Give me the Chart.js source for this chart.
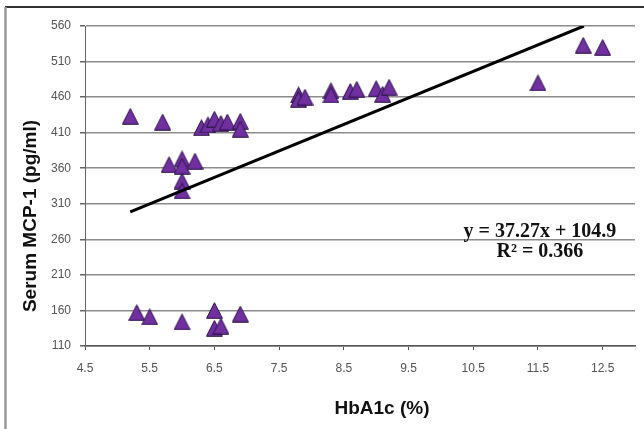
<!DOCTYPE html>
<html>
<head>
<meta charset="utf-8">
<style>
  html, body { margin: 0; padding: 0; background: #fff; }
  #wrap { width: 644px; height: 429px; }
</style>
<script src="https://cdn.jsdelivr.net/npm/chart.js@4"></script>
</head>
<body>
<div id="wrap"><canvas id="mcpChart"></canvas></div>
<script>
// values
const hba1c = [5.3, 5.5, 6.0, 6.5, 6.5, 6.6, 6.9,
  5.2, 5.7, 6.3, 6.4, 6.5, 6.6, 6.7, 6.9, 6.9,
  5.8, 6.0, 6.0, 6.2, 6.0, 6.0,
  7.8, 7.8, 7.9, 8.3, 8.3, 8.6, 8.7, 9.0, 9.1, 9.2,
  11.5, 12.2, 12.5];
const mcp1 = [157, 151, 144, 160, 135, 138, 155,
  433, 425, 417, 421, 429, 423, 425, 426, 415,
  365, 373, 363, 370, 342, 328,
  463, 457, 460, 469, 463, 468, 471, 472, 464, 474,
  480, 533, 530];

const xTicks = [4.5, 5.5, 6.5, 7.5, 8.5, 9.5, 10.5, 11.5, 12.5];
const yTicks = [110, 160, 210, 260, 310, 360, 410, 460, 510, 560];

// linear trendline shown on the chart
const slope = 37.27;
const intercept = 104.9;
const trendX = [5.2, 12.21];
const eqLines = ["y = 37.27x + 104.9", "R\u00B2 = 0.366"];

Chart.defaults.font.family = "'Liberation Sans', Arial, sans-serif";

// Excel-like triangle marker
const marker = document.createElement("canvas");
marker.width = 17;
marker.height = 17;
const mctx = marker.getContext("2d");
mctx.beginPath();
mctx.moveTo(8.5, 0.7);
mctx.lineTo(16.4, 16.3);
mctx.lineTo(0.6, 16.3);
mctx.closePath();
mctx.fillStyle = "#7030a0";
mctx.fill();
mctx.lineWidth = 1;
mctx.strokeStyle = "#2c1248";
mctx.stroke();

const framePlugin = {
  id: "frame",
  beforeDraw(chart) {
    const ctx = chart.ctx;
    ctx.save();
    ctx.fillStyle = "#fff";
    ctx.fillRect(0, 0, chart.width, chart.height);
    ctx.strokeStyle = "#333";
    ctx.lineWidth = 2;
    ctx.beginPath();
    ctx.moveTo(5, 7);
    ctx.lineTo(chart.width, 7);
    ctx.stroke();
    ctx.strokeStyle = "#999";
    ctx.lineWidth = 2.5;
    ctx.beginPath();
    ctx.moveTo(5.5, 7);
    ctx.lineTo(5.5, chart.height);
    ctx.stroke();
    ctx.restore();
  },
  afterDraw(chart) {
    const ctx = chart.ctx;
    const x = chart.scales.x, y = chart.scales.y;
    ctx.save();
    // axis titles
    ctx.fillStyle = "#111";
    ctx.font = "bold 19px 'Liberation Sans', Arial, sans-serif";
    ctx.textAlign = "center";
    ctx.textBaseline = "middle";
    ctx.fillText("HbA1c (%)", 382, 409);
    ctx.translate(31, 216);
    ctx.rotate(-Math.PI / 2);
    ctx.fillText("Serum MCP-1 (pg/ml)", 0, 0);
    ctx.restore();

    // regression equation
    ctx.save();
    ctx.fillStyle = "#111";
    ctx.font = "bold 20px 'Liberation Serif', 'Times New Roman', serif";
    ctx.textAlign = "center";
    ctx.textBaseline = "middle";
    ctx.fillText(eqLines[0], x.getPixelForValue(11.53), y.getPixelForValue(271));
    ctx.fillText(eqLines[1], x.getPixelForValue(11.53), y.getPixelForValue(242));
    ctx.restore();
  }
};

const points = hba1c.map((v, i) => ({ x: v, y: mcp1[i] }));
const trend = trendX.map(v => ({ x: v, y: slope * v + intercept }));

new Chart(document.getElementById("mcpChart"), {
  type: "scatter",
  data: {
    datasets: [
      {
        label: "Trend",
        data: trend,
        showLine: true,
        borderColor: "#000",
        borderWidth: 3,
        pointRadius: 0,
        fill: false
      },
      {
        label: "MCP-1",
        data: points,
        pointStyle: marker,
        pointRadius: 8
      }
    ]
  },
  options: {
    responsive: true,
    maintainAspectRatio: false,
    animation: false,
    events: [],
    layout: { padding: { top: 26, right: 5, left: 0, bottom: 0 } },
    plugins: {
      legend: { display: false },
      tooltip: { enabled: false }
    },
    scales: {
      x: {
        type: "linear",
        min: 4.5,
        max: 13,
        afterBuildTicks: s => { s.ticks = xTicks.map(v => ({ value: v })); },
        afterFit: s => { s.height = 83; },
        grid: { drawOnChartArea: false, tickLength: 4, tickColor: "#555" },
        border: { color: "#555", width: 1.5 },
        ticks: {
          color: "#555",
          font: { size: 12 },
          padding: 11,
          maxRotation: 0,
          autoSkip: false
        }
      },
      y: {
        type: "linear",
        min: 110,
        max: 560,
        afterBuildTicks: s => { s.ticks = yTicks.map(v => ({ value: v })); },
        afterFit: s => { s.width = 85; },
        grid: { color: "#8c8c8c", lineWidth: 1.5, tickLength: 5, tickColor: "#666" },
        border: { color: "#666", width: 1 },
        ticks: { color: "#555", font: { size: 12 }, padding: 9 }
      }
    }
  },
  plugins: [framePlugin]
});
</script>
</body>
</html>
